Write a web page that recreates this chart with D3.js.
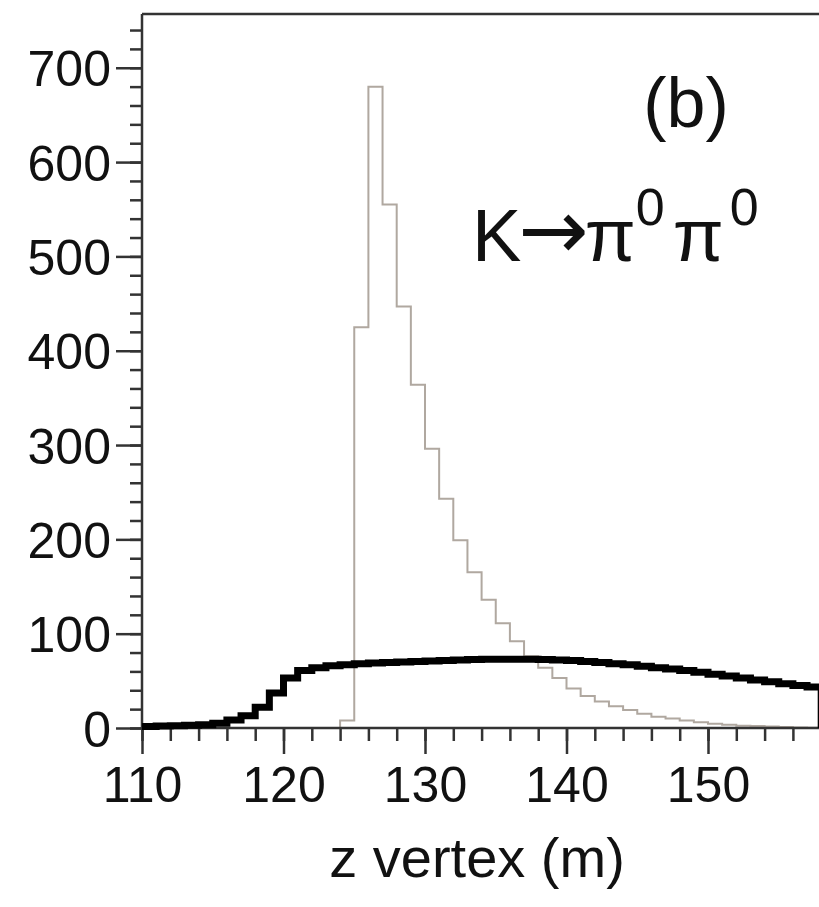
<!DOCTYPE html>
<html>
<head>
<meta charset="utf-8">
<script src="https://cdn.jsdelivr.net/npm/d3@7/dist/d3.min.js"></script>
<style>
  html, body { margin: 0; padding: 0; background: #fff; }
  svg { display: block; }
  text { font-family: "Liberation Sans", Arial, Helvetica, sans-serif; fill: #111; }
</style>
</head>
<body>
<svg id="chart" width="819" height="907"></svg>
<script>
// ---- data ----
const binStarts = d3.range(110, 158, 1); // 1 m bins, 110..157
const grayCounts = [0,0,0,0,0,0,0,0,0,0,0,0,0,0,
  8,425,680,555,447,364,296,243,199,165,136,111,92,76,64,53,42,34,28,23,19,15,12,10,8,6,4.5,3.5,2.5,2,1.5,1,0.5,0.3];
const blackCounts = [1.5,2,2.5,3,3.5,5,8.5,13,22,37,53,61,64,66,67,68,69,69.5,70,70.5,71,71.5,72,72.5,73,73,73,73,72.5,72,71.5,70.5,69.5,68,67,65.5,64,62.5,61,59,57,55,53,51,49,47,45,43.5];
const yMajorTicks = [0,100,200,300,400,500,600,700];
const xMajorTicks = [110,120,130,140,150];
const xLabel = "z vertex (m)";
const panelLabel = "(b)";

// ---- layout ----
const svg = d3.select("#chart");
const mLeft = 142, mTop = 14, mBottom = 728;
const x = d3.scaleLinear().domain([110, 157.8]).range([mLeft, mLeft + 47.8 * 14.15]);
const y = d3.scaleLinear().domain([0, 757]).range([mBottom, mTop]);

// histograms
function histPoints(counts) {
  const pts = [{x: binStarts[0], y: 0}];
  counts.forEach((c, i) => pts.push({x: binStarts[i], y: c}));
  const end = binStarts[binStarts.length - 1] + 1;
  pts.push({x: end, y: counts[counts.length - 1]});
  pts.push({x: end, y: 0});
  return pts;
}
const line = d3.line().x(d => x(d.x)).y(d => y(d.y)).curve(d3.curveStepAfter);

svg.append("path")
  .attr("d", line(histPoints(grayCounts)))
  .attr("fill", "none")
  .attr("stroke", "#b0a8a0")
  .attr("stroke-width", 2);

// axes
const axisColor = "#333";
const yMinor = d3.range(0, 757, 20);
const gyMinor = svg.append("g").attr("transform", `translate(${mLeft},0)`)
  .call(d3.axisLeft(y).tickValues(yMinor).tickSize(12).tickFormat(""));
const gy = svg.append("g").attr("transform", `translate(${mLeft},0)`)
  .call(d3.axisLeft(y).tickValues(yMajorTicks).tickSize(26).tickPadding(5).tickFormat(d3.format("d")));
gy.selectAll("text").style("font-size", "50px").attr("dy", "0.36em");

const xMinor = d3.range(110, 158, 2);
const gxMinor = svg.append("g").attr("transform", `translate(0,${mBottom})`)
  .call(d3.axisBottom(x).tickValues(xMinor).tickSize(13).tickFormat(""));
const gx = svg.append("g").attr("transform", `translate(0,${mBottom})`)
  .call(d3.axisBottom(x).tickValues(xMajorTicks).tickSize(26).tickPadding(12).tickFormat(d3.format("d")));
gx.selectAll("text").style("font-size", "50px");

[gy, gyMinor, gx, gxMinor].forEach(g => {
  g.select(".domain").remove();
  g.selectAll("line").attr("stroke", axisColor).attr("stroke-width", 2.5);
});

// frame lines
svg.append("line").attr("x1", mLeft).attr("x2", mLeft).attr("y1", mTop).attr("y2", mBottom)
  .attr("stroke", axisColor).attr("stroke-width", 2.5);
svg.append("line").attr("x1", mLeft).attr("x2", 819).attr("y1", mTop).attr("y2", mTop)
  .attr("stroke", axisColor).attr("stroke-width", 2.5);
svg.append("line").attr("x1", mLeft).attr("x2", 819).attr("y1", mBottom).attr("y2", mBottom)
  .attr("stroke", axisColor).attr("stroke-width", 2.5);

svg.append("path")
  .attr("d", line(histPoints(blackCounts).slice(1)))
  .attr("fill", "none")
  .attr("stroke", "#000")
  .attr("stroke-width", 7)
  .attr("stroke-linejoin", "miter");

// texts
svg.append("text").attr("x", 686).attr("y", 127).attr("text-anchor", "middle")
  .style("font-size", "70px").text(panelLabel);

const eq = svg.append("text").attr("x", 472).attr("y", 261).style("font-size", "74px");
eq.append("tspan").text("K");
eq.append("tspan").style("font-family", "DejaVu Sans").style("font-size", "84px")
  .attr("dx", -3).attr("dy", -2).text("→");
eq.append("tspan").attr("dx", -4).attr("dy", 2).text("π");
eq.append("tspan").attr("dy", -36).style("font-size", "52px").text("0");
eq.append("tspan").attr("dx", 8).attr("dy", 36).text("π");
eq.append("tspan").attr("dx", 6).attr("dy", -36).style("font-size", "52px").text("0");

svg.append("text").attr("x", 477).attr("y", 877).attr("text-anchor", "middle")
  .style("font-size", "56px").text(xLabel);
</script>
</body>
</html>
